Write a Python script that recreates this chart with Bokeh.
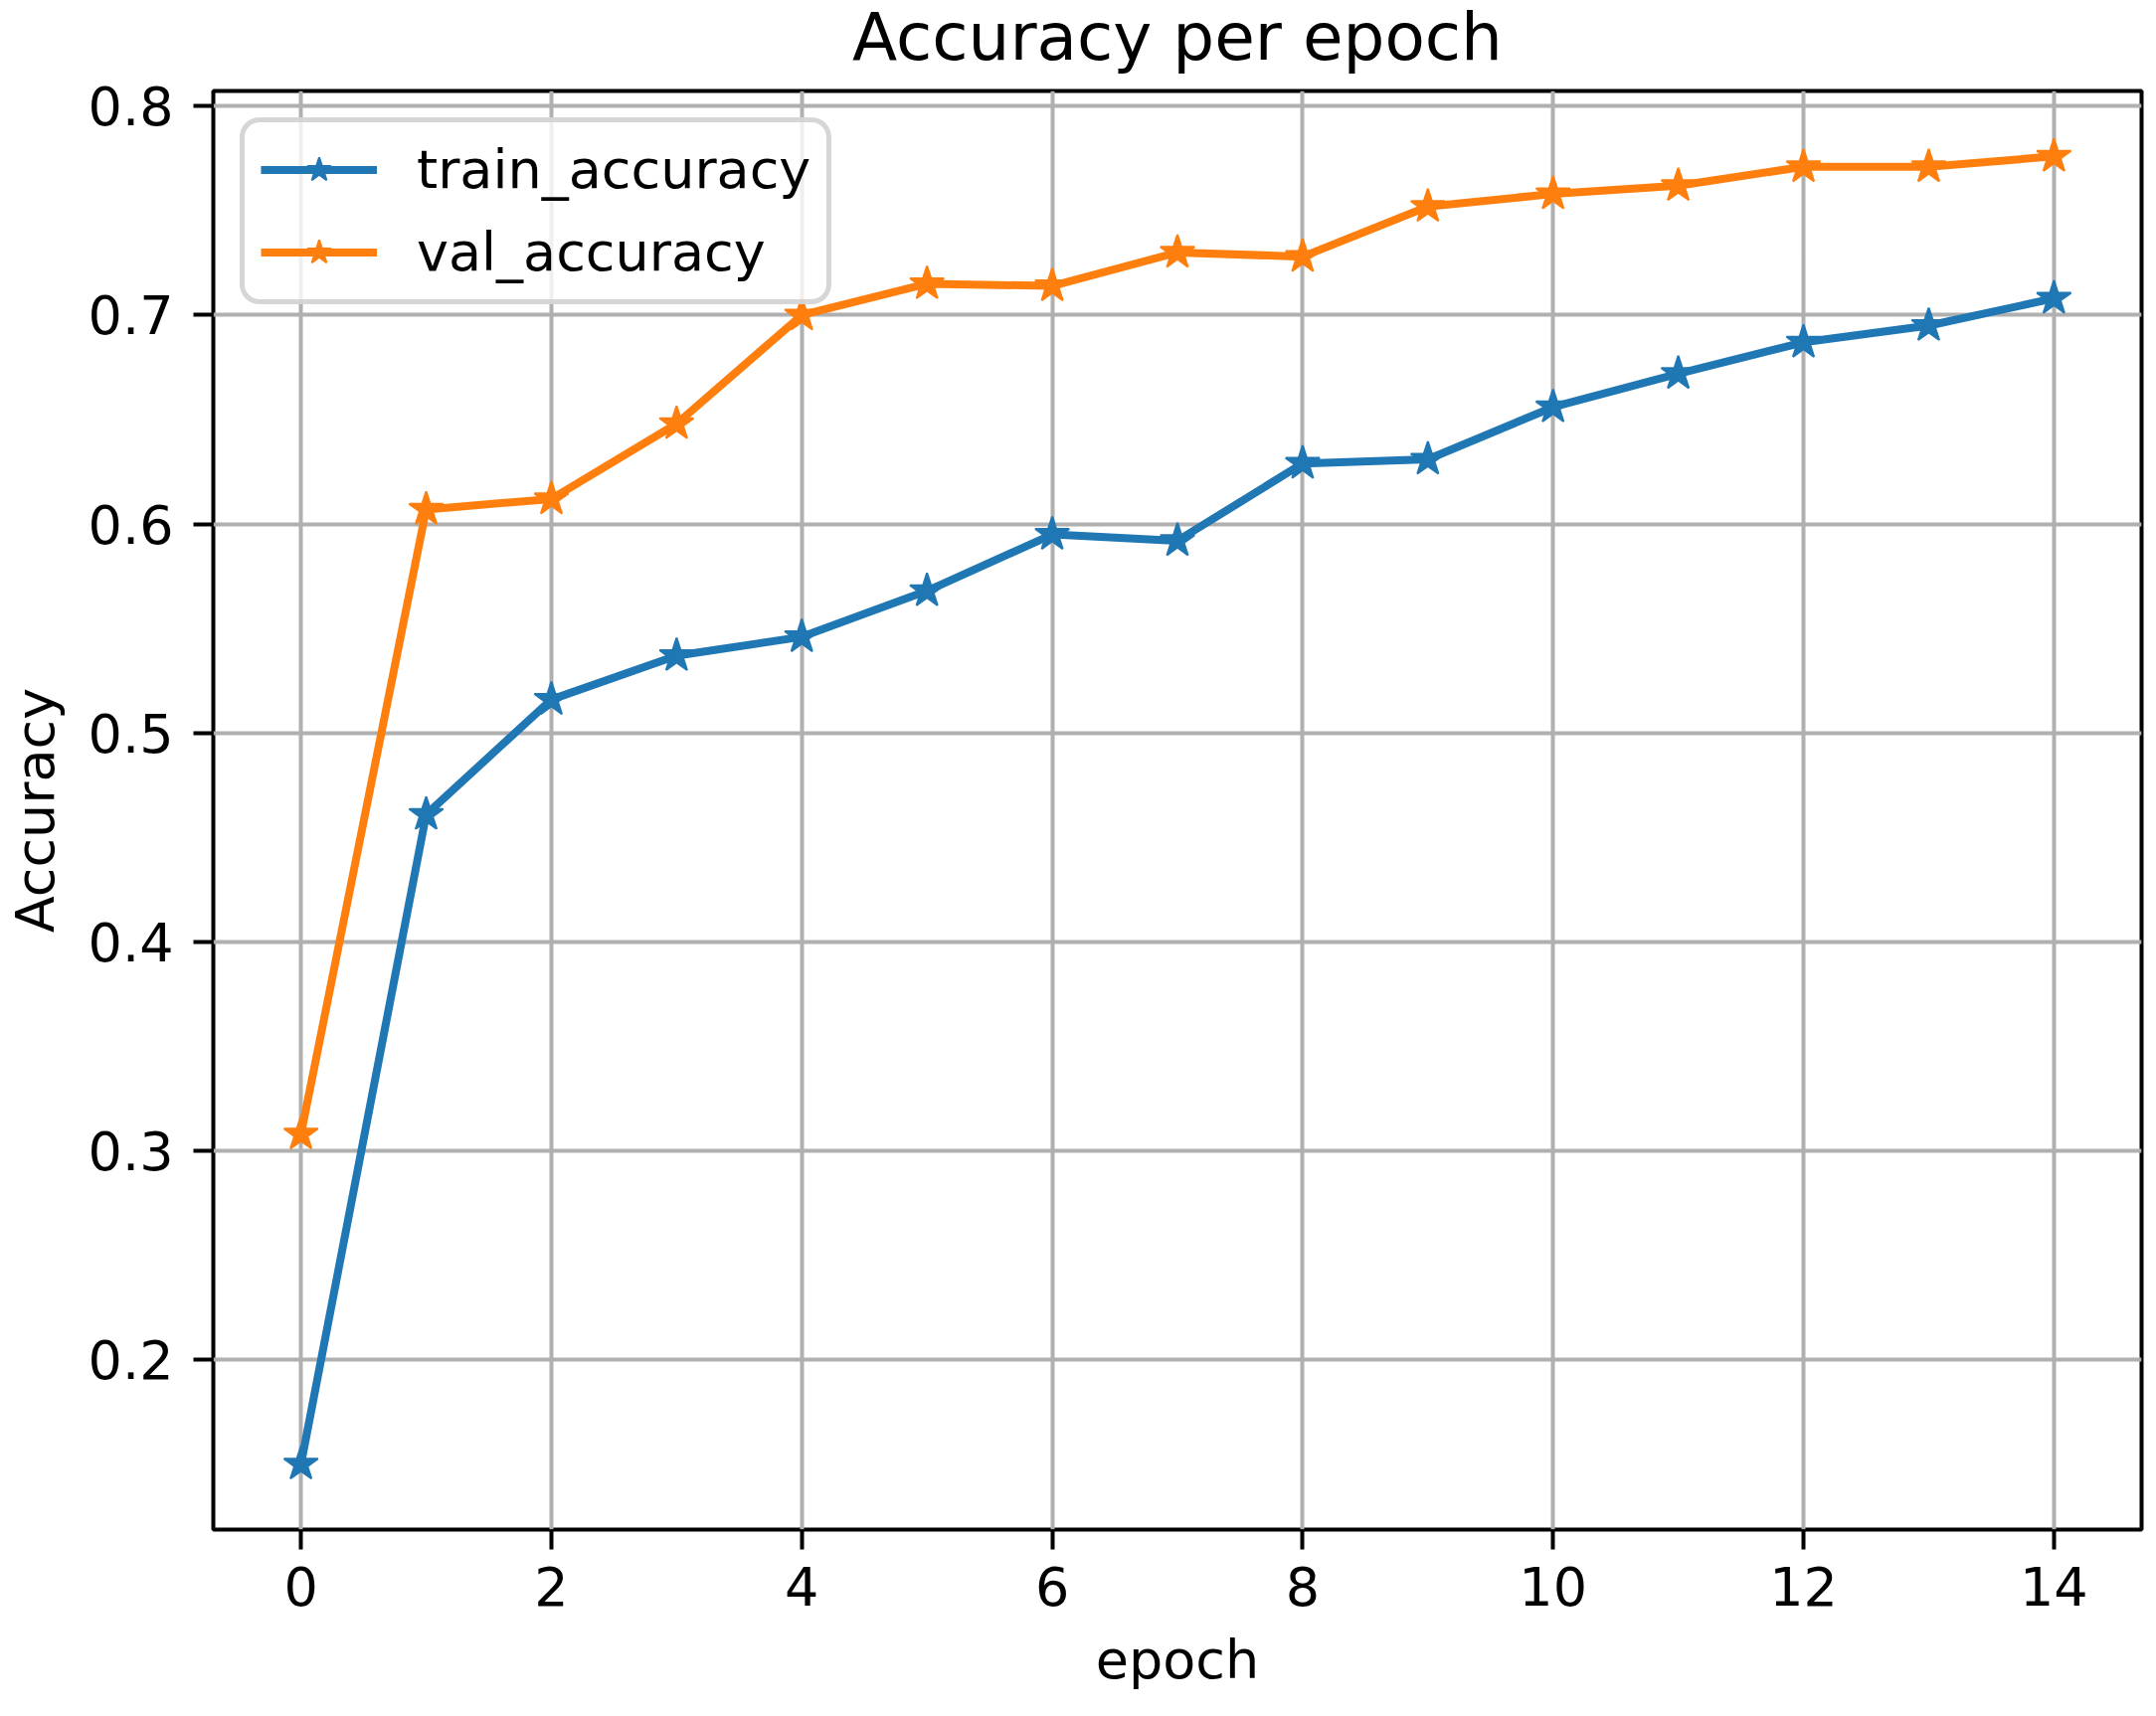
from bokeh.plotting import figure
from bokeh.models import Range1d, FixedTicker, Legend, LegendItem
from bokeh.embed import file_html
from bokeh.resources import INLINE

# ---- data ----
epochs = list(range(15))
train_accuracy = [0.150, 0.461, 0.516, 0.537, 0.546, 0.568, 0.595, 0.592,
                  0.629, 0.631, 0.656, 0.672, 0.687, 0.695, 0.708]
val_accuracy = [0.308, 0.607, 0.612, 0.648, 0.700, 0.715, 0.714, 0.730,
                0.728, 0.752, 0.758, 0.762, 0.771, 0.771, 0.776]
x_ticks = [0, 2, 4, 6, 8, 10, 12, 14]
y_ticks = [0.2, 0.3, 0.4, 0.5, 0.6, 0.7, 0.8]
series_names = ["train_accuracy", "val_accuracy"]
series_colors = ["#1f77b4", "#ff7f0e"]

FONT = "DejaVu Sans"

all_y = train_accuracy + val_accuracy
ylo, yhi = min(all_y), max(all_y)
ypad = 0.05 * (yhi - ylo)
xlo, xhi = min(epochs), max(epochs)
xpad = 0.05 * (xhi - xlo)

p = figure(
    output_backend="svg", toolbar_location=None,
    frame_width=1939, frame_height=1447,
    min_border_left=206, min_border_top=109, min_border_right=5, min_border_bottom=150,
    x_range=Range1d(xlo - xpad, xhi + xpad),
    y_range=Range1d(ylo - ypad, yhi + ypad),
    title="Accuracy per epoch",
    x_axis_label="epoch", y_axis_label="Accuracy",
)
# lift the whole canvas a little so the title can sit as high as in the reference
p.styles = {"position": "relative", "top": "-20px"}
p.background_fill_color = "white"
p.border_fill_color = "white"

p.title.align = "center"
p.title.text_font = FONT
p.title.text_font_size = "66px"
p.title.text_font_style = "normal"
p.title.text_color = "black"
p.title.standoff = 32

p.outline_line_color = "black"
p.outline_line_width = 4
p.outline_line_alpha = 1.0

for g in (p.xgrid, p.ygrid):
    g.grid_line_color = "#b0b0b0"
    g.grid_line_width = 4
p.xgrid.ticker = FixedTicker(ticks=x_ticks)
p.ygrid.ticker = FixedTicker(ticks=y_ticks)

p.xaxis.ticker = FixedTicker(ticks=x_ticks)
p.yaxis.ticker = FixedTicker(ticks=y_ticks)
for ax in (p.xaxis[0], p.yaxis[0]):
    ax.axis_line_color = None
    ax.major_tick_line_color = "black"
    ax.major_tick_line_width = 4
    ax.major_tick_out = 20
    ax.major_tick_in = 0
    ax.minor_tick_line_color = None
    ax.major_label_text_font = FONT
    ax.major_label_text_font_size = "54px"
    ax.major_label_text_color = "black"
    ax.axis_label_text_font = FONT
    ax.axis_label_text_font_size = "54px"
    ax.axis_label_text_font_style = "normal"
    ax.axis_label_text_color = "black"
p.xaxis.major_label_standoff = 17
p.xaxis.axis_label_standoff = 20
p.yaxis.major_label_standoff = 20
p.yaxis.axis_label_standoff = 19

items = []
for name, ys, col in zip(series_names, [train_accuracy, val_accuracy], series_colors):
    lr = p.line(epochs, ys, line_color=col, line_width=8)
    sr = p.scatter(epochs, ys, marker="star", size=36, fill_color=col,
                   line_color=col, line_width=2)
    items.append(LegendItem(label=name, renderers=[lr, sr]))

legend = Legend(items=items, location="top_left")
legend.margin = 27
legend.padding = 16
legend.spacing = 20
legend.glyph_width = 117
legend.glyph_height = 63
legend.label_height = 63
legend.label_standoff = 40
legend.label_text_font = FONT
legend.label_text_font_size = "54px"
legend.label_text_color = "black"
legend.border_line_color = "#cccccc"
legend.border_line_width = 5
legend.border_line_alpha = 0.8
legend.background_fill_color = "white"
legend.background_fill_alpha = 0.8
try:
    legend.border_radius = 20
except AttributeError:
    pass
p.add_layout(legend)

with open("out.html", "w") as f:
    f.write(file_html(p, INLINE))
